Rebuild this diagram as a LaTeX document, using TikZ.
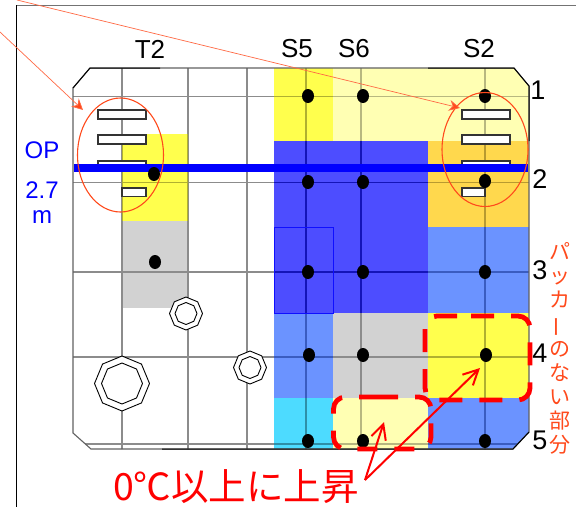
\documentclass[tikz,border=0pt]{standalone}
\usepackage{fontspec}
\setmainfont{Liberation Sans}
\newfontfamily\jpfont{Noto Sans CJK JP}
\usetikzlibrary{arrows.meta}
\definecolor{pkyellow}{HTML}{FFFF4D}
\definecolor{pkpale}{HTML}{FFFFB3}
\definecolor{pkblue}{HTML}{4D4DFF}
\definecolor{pklight}{HTML}{6B93FF}
\definecolor{pkcyan}{HTML}{4DDBFF}
\definecolor{pkorange}{HTML}{FFD84D}
\definecolor{pkgray}{HTML}{D2D2D2}
\definecolor{pkred}{HTML}{FF4A1C}
\definecolor{pkline}{HTML}{FF6A45}
\definecolor{lnwhite}{HTML}{8C8C8C}
\definecolor{lnyellow}{HTML}{B0B030}
\definecolor{lnpale}{HTML}{B8B880}
\definecolor{lnblue}{HTML}{1414B8}
\definecolor{lnlight}{HTML}{3A5CC0}
\definecolor{lncyan}{HTML}{2E8FA8}
\definecolor{lnorange}{HTML}{B89A30}
\definecolor{lngray}{HTML}{8C8C8C}
\tikzset{
  x=1pt,y=-1pt,
  gridline/.style={line width=1.3pt},
  hole/.style={draw=black,fill=white,line width=0.9pt},
  packer/.style={draw=black!80,fill=white,line width=1.1pt},
  sensor/.style={fill=black},
  headlabel/.style={font=\fontsize{26}{26}\selectfont},
  rowlabel/.style={font=\fontsize{27}{27}\selectfont,inner sep=0pt},
  oplabel/.style={text=blue,font=\fontsize{24}{24}\selectfont},
  zone/.style={draw=pkred,line width=1.1pt},
  leader/.style={draw=pkline,line width=0.7pt,-{Stealth[length=11pt,width=11pt,fill=pkred]}},
  dashzone/.style={draw=red,line width=4.8pt,rounded corners=12pt},
  risearrow/.style={draw=red,line width=2pt,-{Straight Barb[length=15pt,width=15pt,line width=2pt]}},
}
\newcommand{\octa}[4]{%
  \draw[hole] plot[samples at={0,45,...,315}] ({#1+#3*cos(\x)},{#2+#3*sin(\x)}) -- cycle;
  \draw[hole] plot[samples at={0,45,...,315}] ({#1+#4*cos(\x)},{#2+#4*sin(\x)}) -- cycle;
}
% one coloured cell with the grid lines that cross it, in a matching tone
\newcommand{\gridpart}{%
  \foreach \gx in {122,188,247,306,361,485} \draw[gridline,draw=gridtone] (\gx,68) -- (\gx,450);
  \foreach \gy in {96.5,182.5,272,357,444} \draw[gridline,draw=gridtone] (73,\gy) -- (529,\gy);
}
\newcommand{\cell}[6]{%
  \begin{scope}
    \colorlet{gridtone}{#6}
    \clip (#2,#3) rectangle (#4,#5);
    \fill[#1] (#2,#3) rectangle (#4,#5);
    \gridpart
  \end{scope}
}
\begin{document}
\begin{tikzpicture}
\useasboundingbox (0,0) rectangle (576,507);
\fill[white] (0,0) rectangle (576,507);
% frame
\draw[black!55,line width=1pt] (16,5) -- (576,5);
\draw[black,line width=1pt] (16,5) -- (16,507);
% colour cells and grid
\begin{scope}
\clip (90,68) -- (514,68) -- (529,86) -- (529,432) -- (513,449) -- (91,449) -- (73,433) -- (73,88) -- cycle;
\cell{white}{70}{60}{540}{455}{lnwhite}
\cell{pkyellow}{122}{134}{188}{221}{lnyellow}
\cell{pkgray}{122}{221}{188}{308}{lngray}
\cell{pkyellow}{274}{68}{333}{141}{lnyellow}
\cell{pkpale}{333}{68}{530}{141}{lnpale}
\cell{pkblue}{274}{141}{428}{313}{lnblue}
\cell{pkorange}{428}{141}{530}{227}{lnorange}
\cell{pklight}{428}{227}{530}{313}{lnlight}
\cell{pklight}{274}{313}{333}{398}{lnlight}
\cell{pkgray}{333}{313}{428}{398}{lngray}
\cell{pkyellow}{428}{313}{530}{398}{lnyellow}
\cell{pkcyan}{274}{398}{333}{449}{lncyan}
\cell{pkpale}{333}{398}{428}{449}{lnpale}
\cell{pklight}{428}{398}{530}{449}{lnlight}
\end{scope}
\draw[blue!80!pkblue,line width=0.7pt] (274,227) rectangle (333,313);
% outline
\draw[black!62,line width=1.1pt] (90,68) -- (514,68) -- (529,86) -- (529,432) -- (513,449) -- (91,449) -- (73,433) -- (73,88) -- cycle;
\draw[black,line width=1pt] (160,68) -- (90,68) -- (73,88);
\draw[black,line width=1pt] (428,68) -- (514,68) -- (529,86) -- (529,141);
\draw[black,line width=1pt] (162,449) -- (513,449) -- (529,432);
% casing holes
\octa{122}{383.5}{27.5}{20.5}
\octa{186}{313.5}{16.5}{11}
\octa{250}{367.5}{16.5}{11}
% packers
\foreach \py in {110,135,161} {
  \draw[packer] (98,\py) rectangle (146,\py+9);
  \draw[packer] (462,\py) rectangle (510,\py+9);
}
\draw[packer] (122,188) rectangle (146,196.5);
\draw[packer] (462,188) rectangle (485,196.5);
% operating level bar
\fill[blue] (74,164) rectangle (528,172);
% sensors
\foreach \sx/\sy in {154/174,155/262,308/96,363/96,485/96,308/182,363/182,485/181,308/272,363/272,485/272,309/355,363/355,486/355,308/441,363/441,485/441}
  \fill[sensor] (\sx,\sy) ellipse (6 and 7);
% red ellipses
\draw[zone] (120.5,155) ellipse (43 and 57);
\draw[zone] (485,149.5) ellipse (43 and 57);
% dashed zones
\draw[dashzone,dash pattern=on 23pt off 17pt] (471,316) -- (530,316) -- (530,400) -- (425,400) -- (425,316) -- (471,316);
\draw[dashzone,dash pattern=on 20pt off 17pt] (378,397) -- (431,397) -- (431,449) -- (333.5,449) -- (333.5,397) -- (378,397);
% labels
\node[headlabel] (t2) at (150,49) {T2};
\node[headlabel] (s5) at (297,49) {S5};
\node[headlabel] (s6) at (354,49) {S6};
\node[headlabel] (s2) at (479,49) {S2};
\node[rowlabel] (r1) at (538,90) {1};
\node[rowlabel] (r2) at (540,179) {2};
\node[rowlabel] (r3) at (540,270) {3};
\node[rowlabel] (r4) at (540,353) {4};
\node[rowlabel] (r5) at (540,440) {5};
\node[oplabel] (op) at (42,150) {OP};
\node[oplabel] (opv) at (42,190) {2.7};
\node[oplabel] (opm) at (42,217) {m};
\node[text=pkred,align=center,inner sep=0pt,font=\jpfont\fontsize{21}{24.2}\selectfont] (nopacker) at (559.5,348.5)
  {パ\\ッ\\カ\\\rotatebox[origin=c]{90}{ー}\\の\\な\\い\\部\\分};
\node[text=red,inner sep=0pt,font=\jpfont\fontsize{37.5}{37.5}\selectfont] (rise) at (236,487) {0℃以上に上昇};
% leaders
\coordinate (la) at (0,32);
\coordinate (lat) at (83,110);
\coordinate (lb) at (17,0);
\coordinate (lbt) at (460,108);
\draw[leader] (la) -- (lat);
\draw[leader] (lb) -- (lbt);
% rise arrows
\coordinate (ra) at (365,480);
\coordinate (rb) at (384,422);
\coordinate (rc) at (480,368);
\draw[risearrow] (ra) -- (rb);
\draw[risearrow] (ra) -- (rc);
\end{tikzpicture}
\end{document}
